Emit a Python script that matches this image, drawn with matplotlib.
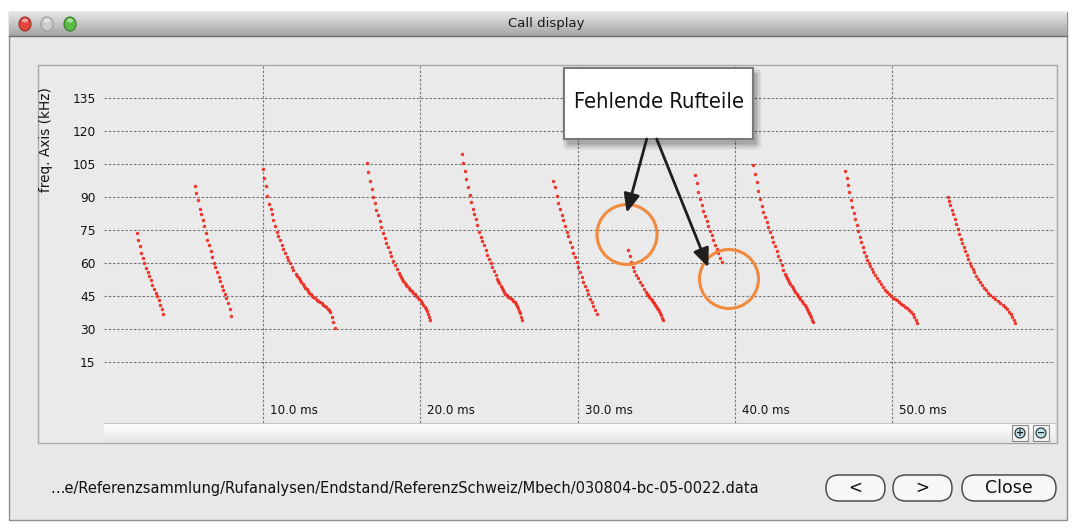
import numpy as np
import matplotlib
matplotlib.use("Agg")
import matplotlib.pyplot as plt
from matplotlib.patches import Rectangle, FancyBboxPatch, Circle, Ellipse
from matplotlib.colors import LinearSegmentedColormap
from matplotlib.transforms import offset_copy
from matplotlib import font_manager

W, H = 1075, 528

# ---- data ----
freq_ticks = [15, 30, 45, 60, 75, 90, 105, 120, 135]
time_ticks = [10, 20, 30, 40, 50]
time_labels = ["10.0 ms", "20.0 ms", "30.0 ms", "40.0 ms", "50.0 ms"]

call1_ms = [1.97, 2.07, 2.16, 2.24, 2.35, 2.45, 2.56, 2.67, 2.77, 2.86, 2.94, 3.05, 3.18, 3.28, 3.37, 3.47, 3.56, 3.66]
call1_khz = [73.8, 70.8, 67.7, 64.7, 62.3, 60.1, 57.9, 55.9, 54.1, 52.3, 50.3, 48.5, 46.7, 45.0, 43.2, 41.2, 39.2, 37.1]

call2_ms = [5.68, 5.76, 5.87, 5.98, 6.08, 6.17, 6.27, 6.38, 6.46, 6.57, 6.68, 6.78, 6.89, 6.97, 7.08, 7.18,
            7.29, 7.39, 7.48, 7.58, 7.67, 7.77, 7.88, 7.98]
call2_khz = [95.0, 92.0, 88.8, 84.9, 82.6, 79.9, 76.8, 73.6, 70.8, 68.2, 65.8, 62.9, 60.3, 58.1, 55.9, 53.8,
             51.8, 49.9, 48.0, 46.2, 44.2, 41.8, 39.2, 36.2]

call3_ms = [9.98, 10.06, 10.17, 10.27, 10.38, 10.49, 10.57, 10.65, 10.76, 10.87, 10.97, 11.08, 11.19, 11.29,
            11.40, 11.51, 11.61, 11.72, 11.82, 11.93, 12.10, 12.18, 12.27, 12.35, 12.43, 12.52, 12.60, 12.68,
            12.77, 12.85, 12.94, 13.02, 13.11, 13.21, 13.31, 13.42, 13.52, 13.62, 13.73, 13.83, 13.94, 14.03,
            14.11, 14.19, 14.26, 14.38, 14.47, 14.58]
call3_khz = [102.9, 98.9, 95.0, 90.7, 87.1, 84.7, 82.3, 79.8, 77.0, 74.4, 72.3, 70.5, 68.5, 66.4,
             64.6, 63.0, 61.5, 60.0, 58.5, 57.0, 55.1, 54.2, 53.3, 52.4, 51.5, 50.6, 49.8, 49.0,
             48.2, 47.4, 46.7, 46.0, 45.3, 44.7, 44.1, 43.5, 43.0, 42.4, 41.8, 41.2, 40.6, 40.0,
             39.3, 38.6, 37.8, 35.6, 33.4, 30.8]

call4_ms = [16.59, 16.69, 16.80, 16.91, 17.01, 17.12, 17.20, 17.31, 17.42, 17.52, 17.63, 17.74, 17.84, 17.95,
            18.06, 18.16, 18.27, 18.37, 18.50, 18.63, 18.70, 18.77, 18.85, 18.92, 19.00, 19.09, 19.17, 19.26,
            19.35, 19.45, 19.55, 19.64, 19.73, 19.83, 19.93, 20.03, 20.11, 20.19, 20.27, 20.34, 20.41, 20.47,
            20.55, 20.62]
call4_khz = [105.5, 101.7, 97.6, 93.7, 90.2, 87.3, 84.1, 81.9, 79.4, 76.7, 74.0, 71.6, 69.3, 67.3,
             65.3, 63.4, 61.2, 59.3, 57.3, 55.5, 54.6, 53.7, 52.8, 52.0, 51.1, 50.3, 49.5, 48.8,
             48.0, 47.3, 46.6, 45.9, 45.1, 44.4, 43.6, 42.9, 42.0, 41.2, 40.2, 39.3, 38.1, 36.9,
             35.6, 34.3]

call5_ms = [22.63, 22.73, 22.82, 22.92, 23.03, 23.14, 23.22, 23.33, 23.43, 23.53, 23.62, 23.73, 23.84, 23.94,
            24.05, 24.16, 24.26, 24.37, 24.48, 24.58, 24.69, 24.79, 24.90, 24.96, 25.02, 25.10, 25.17, 25.25,
            25.32, 25.40, 25.49, 25.60, 25.70, 25.80, 25.91, 25.99, 26.06, 26.13, 26.19, 26.26, 26.32, 26.39,
            26.45]
call5_khz = [109.7, 105.7, 102.1, 98.3, 94.7, 91.0, 87.7, 84.8, 82.5, 80.1, 77.4, 74.1, 72.1, 70.0,
             68.2, 65.9, 63.9, 62.1, 60.3, 58.3, 56.4, 54.5, 52.7, 51.8, 50.9, 49.9, 48.9, 48.0,
             47.1, 46.2, 45.4, 44.8, 44.2, 43.6, 43.0, 42.3, 41.5, 40.5, 39.5, 38.4, 37.2, 35.7,
             34.1]

call6_ms = [28.46, 28.56, 28.67, 28.77, 28.88, 28.99, 29.09, 29.20, 29.31, 29.41, 29.52, 29.63, 29.73, 29.84,
            29.94, 30.05, 30.16, 30.26, 30.37, 30.48, 30.58, 30.68, 30.79, 30.90, 31.00, 31.11, 31.25]
call6_khz = [97.4, 94.5, 90.8, 87.6, 84.6, 82.0, 79.6, 77.0, 74.4, 72.2, 69.6, 67.2, 64.9, 62.7,
             60.4, 58.1, 55.9, 53.8, 51.6, 49.5, 47.7, 45.9, 44.0, 42.2, 40.6, 38.9, 36.9]

call7_ms = [33.22, 33.31, 33.39, 33.50, 33.60, 33.71, 33.82, 33.95, 34.07, 34.20, 34.35, 34.42, 34.49, 34.57,
            34.65, 34.72, 34.79, 34.87, 34.94, 35.00, 35.07, 35.13, 35.19, 35.26, 35.32, 35.39, 35.45]
call7_khz = [66.0, 63.3, 60.7, 58.5, 56.7, 54.9, 53.2, 51.5, 50.0, 48.5, 47.0, 46.2, 45.5, 44.7,
             43.9, 43.2, 42.5, 41.8, 41.2, 40.5, 39.8, 39.1, 38.4, 37.4, 36.4, 35.2, 34.1]

call8_ms = [37.47, 37.57, 37.67, 37.78, 37.89, 37.99, 38.10, 38.21, 38.31, 38.42, 38.53, 38.63, 38.74, 38.85,
            38.95, 39.06, 39.19]
call8_khz = [100.1, 96.3, 92.5, 89.2, 86.3, 83.9, 81.6, 79.3, 77.1, 74.8, 72.7, 70.5, 68.4, 66.4,
             64.5, 62.5, 60.5]

call9_ms = [41.17, 41.28, 41.39, 41.49, 41.60, 41.71, 41.81, 41.92, 42.02, 42.13, 42.24, 42.34, 42.44, 42.55,
            42.66, 42.76, 42.87, 42.98, 43.08, 43.20, 43.27, 43.33, 43.40, 43.46, 43.53, 43.61, 43.68, 43.76,
            43.85, 43.93, 44.01, 44.09, 44.17, 44.26, 44.35, 44.43, 44.50, 44.58, 44.65, 44.71, 44.78, 44.84,
            44.91, 44.98]
call9_khz = [104.6, 100.7, 96.9, 92.8, 89.4, 86.0, 83.3, 81.0, 78.7, 76.5, 74.2, 72.1, 69.9, 67.8,
             65.7, 63.5, 61.4, 59.3, 57.1, 55.2, 54.2, 53.2, 52.3, 51.4, 50.5, 49.6, 48.7, 47.9,
             47.0, 46.2, 45.3, 44.5, 43.7, 42.9, 41.9, 41.0, 40.1, 39.2, 38.3, 37.4, 36.4, 35.4,
             34.2, 33.1]

call10_ms = [47.00, 47.10, 47.19, 47.28, 47.38, 47.47, 47.57, 47.66, 47.76, 47.85, 47.95, 48.04, 48.14, 48.23,
             48.33, 48.42, 48.52, 48.61, 48.71, 48.80, 48.90, 49.03, 49.16, 49.28, 49.41, 49.54, 49.67, 49.80,
             49.92, 50.05, 50.18, 50.30, 50.43, 50.56, 50.69, 50.81, 50.94, 51.07, 51.20, 51.30, 51.39, 51.49,
             51.58]
call10_khz = [101.9, 98.7, 95.6, 92.2, 88.8, 85.8, 82.9, 80.1, 77.4, 74.7, 72.0, 69.7, 67.4, 65.3,
              63.3, 61.7, 60.1, 58.7, 57.4, 56.0, 54.7, 53.3, 52.0, 50.6, 49.2, 48.0, 46.9, 46.0,
              45.1, 44.4, 43.8, 43.1, 42.4, 41.7, 41.0, 40.3, 39.7, 38.9, 37.9, 36.8, 35.6, 34.3,
              32.9]

call11_ms = [53.55, 53.62, 53.68, 53.78, 53.87, 53.97, 54.06, 54.16, 54.25, 54.35, 54.44, 54.54, 54.63, 54.73,
             54.82, 54.92, 55.01, 55.11, 55.20, 55.33, 55.46, 55.58, 55.71, 55.84, 55.97, 56.09, 56.22, 56.38,
             56.54, 56.70, 56.86, 57.02, 57.18, 57.31, 57.44, 57.54, 57.63, 57.73, 57.82]
call11_khz = [90.1, 88.3, 86.5, 84.4, 82.4, 80.1, 77.9, 75.6, 73.3, 71.2, 69.2, 67.4, 65.6, 63.7,
              61.9, 60.3, 58.8, 57.4, 56.0, 54.4, 52.9, 51.5, 50.1, 49.0, 47.9, 46.7, 45.6, 44.7,
              43.8, 42.9, 42.0, 41.1, 40.2, 39.1, 37.9, 36.8, 35.6, 34.3, 32.9]

calls = [(call1_ms, call1_khz), (call2_ms, call2_khz), (call3_ms, call3_khz), (call4_ms, call4_khz),
         (call5_ms, call5_khz), (call6_ms, call6_khz), (call7_ms, call7_khz), (call8_ms, call8_khz),
         (call9_ms, call9_khz), (call10_ms, call10_khz), (call11_ms, call11_khz)]

file_path = "\u2026e/Referenzsammlung/Rufanalysen/Endstand/ReferenzSchweiz/Mbech/030804-bc-05-0022.data"

# ---- layout (pixels of the window screenshot) ----
plot_l, plot_t, plot_r, plot_b = 104, 66, 1055, 423
x0_px, px_ms = 105.7, 15.73       # where 0 ms sits, pixels per ms
y0_px, px_khz = 395.3, 2.2        # where 0 kHz sits, pixels per kHz


def fig_box(x0, y0, x1, y1):
    return [x0 / W, 1 - y1 / H, (x1 - x0) / W, (y1 - y0) / H]


def grad(ax, x0, y0, x1, y1, c_top, c_bot, z=1):
    cm = LinearSegmentedColormap.from_list("g", [c_top, c_bot])
    g = np.linspace(0, 1, 64).reshape(-1, 1)
    ax.imshow(g, cmap=cm, extent=(x0, x1, y1, y0), aspect="auto", zorder=z, interpolation="bilinear")


def fit_width(txt, width):
    fig.canvas.draw()
    w = txt.get_window_extent().width
    txt.set_fontsize(txt.get_fontsize() * width / w)


fig = plt.figure(figsize=(W / 100, H / 100), dpi=100, facecolor="white")

# window chrome
bg = fig.add_axes([0, 0, 1, 1], zorder=0)
bg.axis("off")

bg.add_patch(Rectangle((9, 12), 1058, 508, fc="#e8e8e8", ec="#8f8f8f", lw=1, zorder=0.5))
grad(bg, 9, 12, 1067, 36, "#e6e6e6", "#a4a4a4")
bg.plot([9, 1067], [36, 36], color="#6f6f6f", lw=1, zorder=2)
for cx, fc, ec in [(25, "#e2463f", "#9c2a24"), (47, "#cdcdcd", "#9a9a9a"), (70, "#5bbb46", "#2f7d25")]:
    bg.add_patch(Ellipse((cx, 24), 12, 14, fc=fc, ec=ec, lw=0.8, zorder=3))
    bg.add_patch(Ellipse((cx, 20.5), 6, 4, fc="white", ec="none", alpha=0.5, zorder=4))
bg.text(546, 24, "Call display", ha="center", va="center", fontsize=9.5, color="#1a1a1a", zorder=3)

# panel
bg.add_patch(Rectangle((38, 65), 1019, 378, fc="#e9eae9", ec="#a8a8a8", lw=1, zorder=1))
grad(bg, plot_l, plot_b, plot_r, 442, "#ffffff", "#e6e6e6", z=2)
bg.plot([plot_l, plot_r], [plot_b, plot_b], color="#c6c6c6", lw=0.8, zorder=3)
for bx, sym in [(1020, "+"), (1041, "\u2212")]:
    bg.add_patch(Rectangle((bx - 8, 425), 16, 16, fc="#f4f4f4", ec="#8a8a8a", lw=0.8, zorder=3))
    bg.add_patch(Circle((bx, 433), 5, fc="#bfe0e4", ec="#2d3b3d", lw=0.9, zorder=4))
    bg.text(bx, 433, sym, ha="center", va="center", fontsize=7, fontweight="bold", color="#1c2628", zorder=5)
bg.set_xlim(0, W)
bg.set_ylim(H, 0)

bg.text(46, 140, "freq. Axis (kHz)", rotation=90, ha="center", va="center", fontsize=9.8, color="#111111", zorder=3)

# bottom bar
path_txt = bg.text(50, 488, file_path, ha="left", va="center", fontsize=10, color="#111111", zorder=3)
for x_l, x_r, lab, fs in [(826, 885, "<", 12), (893, 952, ">", 12), (962, 1056, "Close", 12.5)]:
    bg.add_patch(FancyBboxPatch((x_l, 475), x_r - x_l, 26, boxstyle="round,pad=0,rounding_size=13",
                                fc="#f7f7f7", ec="#4e4e4e", lw=1.1, zorder=3))
    bg.text((x_l + x_r) / 2, 488, lab, ha="center", va="center", fontsize=fs, color="#111111", zorder=4)

# plot area
ax = fig.add_axes(fig_box(plot_l, plot_t, plot_r, plot_b), zorder=2)
ax.patch.set_alpha(0)
ax.set_xlim((plot_l - x0_px) / px_ms, (plot_r - x0_px) / px_ms)
ax.set_ylim((y0_px - plot_b) / px_khz, (y0_px - plot_t) / px_khz)
for s in ax.spines.values():
    s.set_visible(False)
ax.set_yticks(freq_ticks)
ax.set_xticks(time_ticks)
ax.tick_params(axis="y", length=0, pad=6, labelsize=8.8, labelcolor="#111111")
ax.tick_params(axis="x", length=0, labelbottom=False)
ax.grid(True, ls=(0, (2.2, 1.6)), color="#767676", lw=0.8)
ax.set_axisbelow(True)

lab_tr = offset_copy(ax.get_xaxis_transform(), fig=fig, x=7, y=0, units="dots")
for t, lab in zip(time_ticks, time_labels):
    ax.text(t, (plot_b - 410) / (plot_b - plot_t), lab, transform=lab_tr, ha="left", va="center",
            fontsize=8.6, color="#111111")

for t, f in calls:
    ax.plot(t, f, ls="none", marker="o", ms=2.5, mew=0, color="#ec2f25", alpha=0.95)

# annotation overlay
ov = fig.add_axes([0, 0, 1, 1], zorder=5)
ov.patch.set_alpha(0)
ov.set_xlim(0, W)
ov.set_ylim(H, 0)
ov.axis("off")

for r, a in [(7, 0.05), (5, 0.07), (3, 0.09), (1.5, 0.1)]:
    ov.add_patch(FancyBboxPatch((567 + 2, 71 + 4), 186, 68, boxstyle=f"round,pad={r},rounding_size={r}",
                                fc="black", ec="none", alpha=a))
ov.add_patch(Rectangle((564, 68), 189, 71, fc="white", ec="#7a7a7a", lw=1.5))

names = {f.name for f in font_manager.fontManager.ttflist}
box_font = "Liberation Sans Narrow" if "Liberation Sans Narrow" in names else "DejaVu Sans"
txt = ov.text(658.5, 102, "Fehlende Rufteile", ha="center", va="center", fontsize=20,
              family=box_font, fontstretch="condensed", color="#111111")
fit_width(txt, 170)
fit_width(path_txt, 707)

ov.add_patch(Circle((627, 234.5), 30, fill=False, ec="#ef8a3e", lw=2.2))
ov.add_patch(Circle((729, 279), 29.5, fill=False, ec="#ef8a3e", lw=2.2))
for xy, xyt in [((626.7, 212.7), (646.7, 139)), ((708.3, 267.3), (656.7, 139))]:
    ov.annotate("", xy=xy, xytext=xyt,
                arrowprops=dict(arrowstyle="-|>,head_length=0.7,head_width=0.3", color="#1e1e1e", lw=2,
                                mutation_scale=16, shrinkA=0, shrinkB=0))

fig.savefig("out.png", dpi=100, facecolor="white")
